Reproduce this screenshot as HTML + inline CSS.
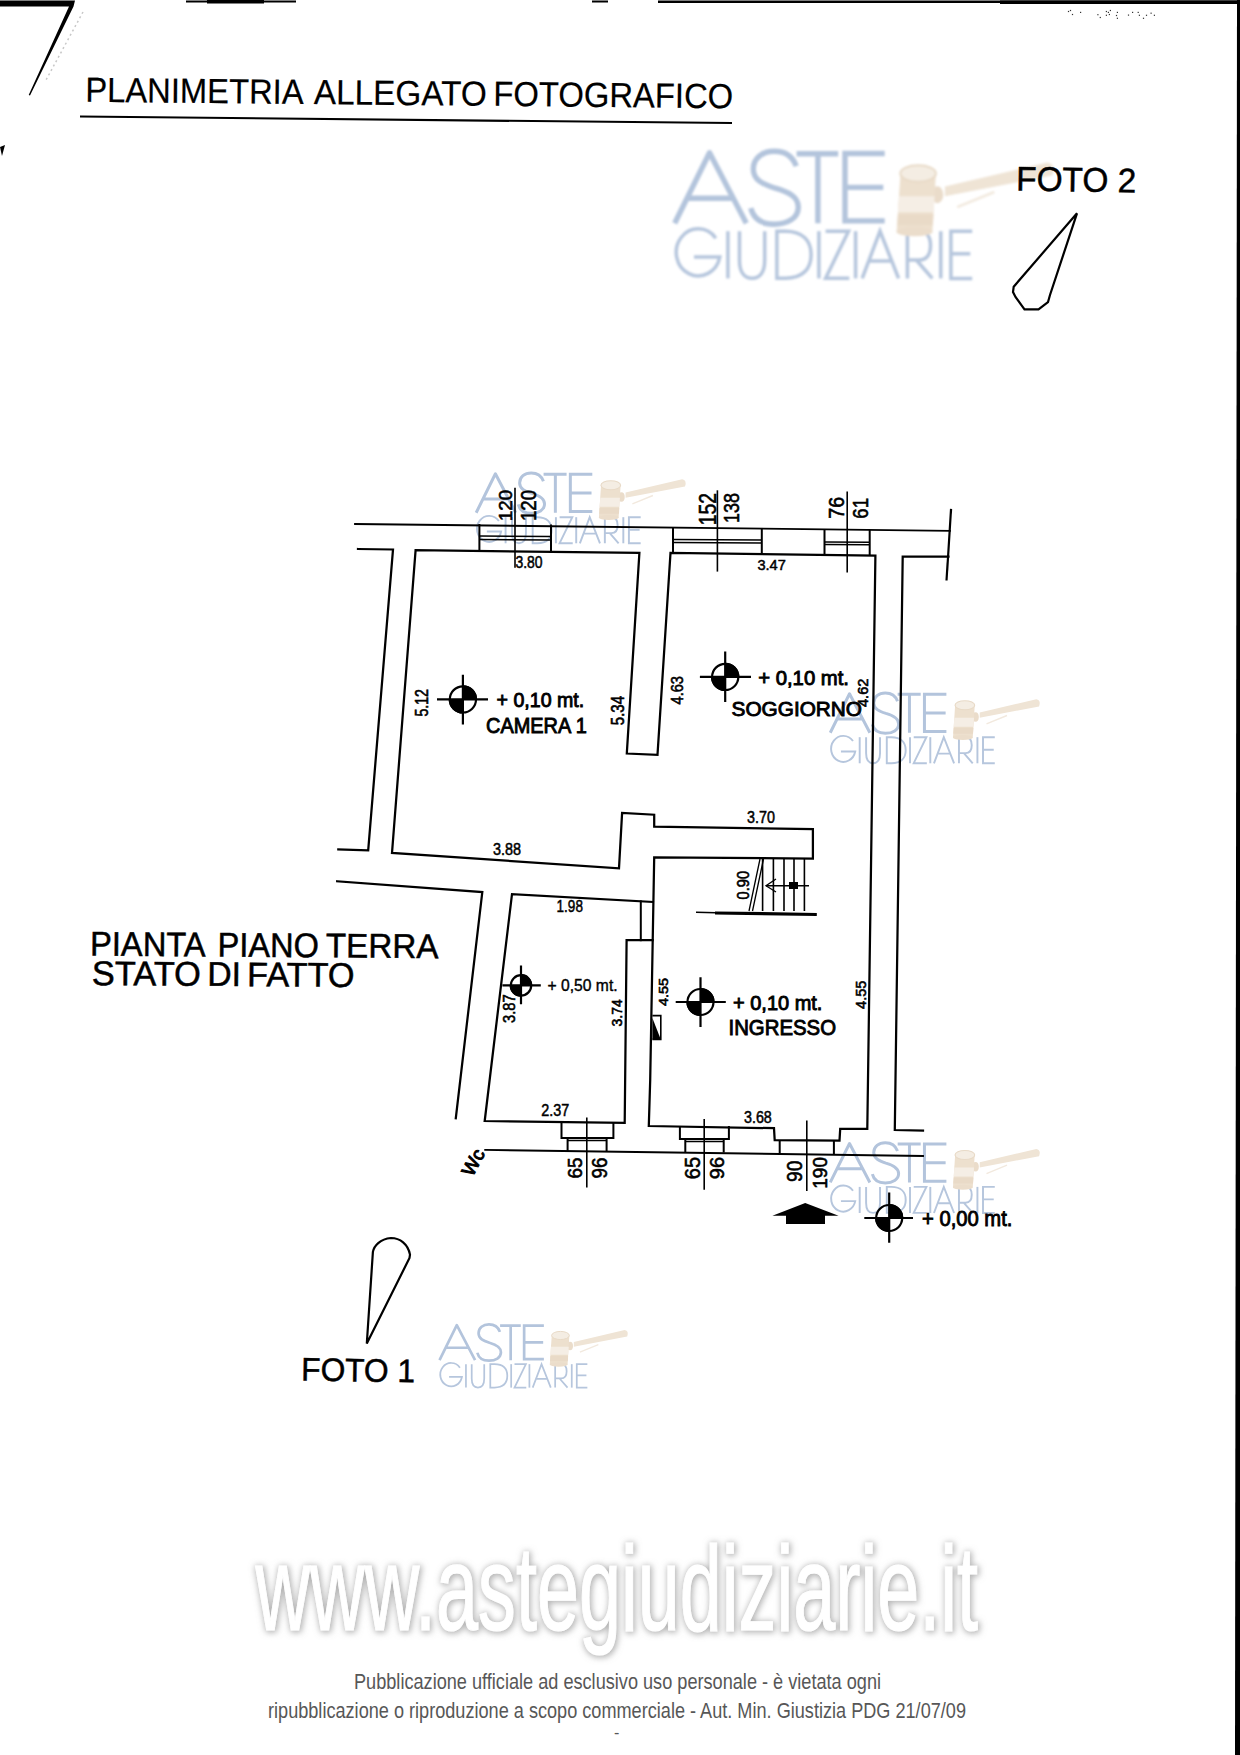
<!DOCTYPE html>
<html><head><meta charset="utf-8">
<style>
html,body{margin:0;padding:0;background:#fff;}
body{width:1240px;height:1755px;overflow:hidden;position:relative;}
svg{position:absolute;left:0;top:0;display:block;}
text{font-family:"Liberation Sans",sans-serif;}
</style></head><body>
<svg width="1240" height="1755" viewBox="0 0 1240 1755">
<defs>
<filter id="wblur" x="-5%" y="-5%" width="110%" height="110%"><feGaussianBlur stdDeviation="0.85"/></filter>
<filter id="shd" x="-5%" y="-25%" width="110%" height="150%">
<feMorphology in="SourceAlpha" operator="dilate" radius="0.8" result="d"/>
<feGaussianBlur in="d" stdDeviation="3"/>
<feOffset dx="0.6" dy="1.2" result="b"/>
<feFlood flood-color="#808080" flood-opacity="0.6"/>
<feComposite in2="b" operator="in" result="s"/>
<feMerge><feMergeNode in="s"/><feMergeNode in="SourceGraphic"/></feMerge>
</filter>
<g id="wm" filter="url(#wblur)">
<g fill="none" stroke="#b3c4dc" stroke-width="5.4" stroke-linecap="butt" stroke-linejoin="miter">
<path d="M-0.6,71 L34.2,0.5 L71,71 M12,46 L58.5,46" stroke-linejoin="round"/>
<path d="M121,14 C117,3 108,-1 99,-1 C87,-1 78,6 78,17 C78,28 88,32 100,36 C114,40 123,45 123,55 C123,66 112,72 99,72 C86,72 78,66 75.5,56"/>
<path d="M121.3,1.5 L162.9,1.5 M142.6,1.5 L142.6,71"/>
<path d="M209.4,1.3 L169.7,1.3 L169.7,68.7 L209.4,68.7 M169.7,35.2 L208,35.2"/>
</g>
<g fill="none" stroke="#b6c6dd" stroke-width="3.5">
<path d="M40.5,86 A22,23.5 0 1 0 44.5,104.8 L18.7,104.8"/>
<path d="M52.6,79 L52.6,126.2"/>
<path d="M64.2,79 L64.2,108 C64.2,120 69,126 76.8,126 C84.6,126 89.4,120 89.4,108 L89.4,79"/>
<path d="M101.6,79 L101.6,126 L110,126 C127,126 135.8,117 135.8,102.5 C135.8,88 127,79 110,79 Z"/>
<path d="M143.6,79 L143.6,126.2"/>
<path d="M150.3,79 L173.2,79 L150.3,126 L174,126"/>
<path d="M180.3,79 L180.3,126.2"/>
<path d="M186.9,126.2 L204.7,79 L223.3,126.2 M195,108.7 L215.5,108.7"/>
<path d="M232.1,126.2 L232.1,79 L244,79 C251,79 255.2,84 255.2,93.4 C255.2,102.8 251,107.8 244,107.8 L232.1,107.8 M241,107.8 L257,126.2"/>
<path d="M265.5,79 L265.5,126.2"/>
<path d="M296.9,79 L275.6,79 L275.6,126.2 L296.9,126.2 M275.6,101.6 L295,101.6"/>
</g>
<g>
<path d="M269.6,34.3 L372,10.3 Q381,12 377,23.4 L269.6,44 Z" fill="#efe4d5"/>
<path d="M281.9,54.9 L319,39.8" stroke="#f2e9de" stroke-width="2.5" fill="none"/>
<ellipse cx="262" cy="42.6" rx="6" ry="8.5" fill="#eadcca"/>
<path d="M225.2,21.3 L260.6,21.3 L257,80 L221.3,80 Z" fill="#ede0ce"/>
<ellipse cx="239.2" cy="79.5" rx="18" ry="4.5" fill="#ebddcb"/>
<path d="M223.7,44 L259.3,44 L258.4,60 L222.6,60 Z" fill="#f5eee5"/>
<path d="M222.6,62 L258.2,62 L257.6,73 L222,73 Z" fill="#e9dac7"/>
<ellipse cx="242.8" cy="21.3" rx="17.8" ry="8.2" fill="#f4ede3" stroke="#e8dac7" stroke-width="2"/>
</g>
</g>
</defs>

<!-- border -->
<g fill="#000">
<rect x="186" y="0.5" width="110" height="2"/>
<rect x="207" y="0" width="57" height="3.5"/>
<rect x="592" y="0.5" width="16" height="2"/>
<rect x="658" y="0.5" width="582" height="2.5"/>
<rect x="1000" y="0.5" width="240" height="3.5"/>
<path d="M1237,0 L1240,0 L1240,1755 L1235,1755 Z"/>
<path d="M0,0.5 L75,0.5 L73.5,6.5 L30,95.5 L28.7,95 L69,6.5 L0,6.5 Z"/>
<path d="M83,12 L46,80" stroke="#c8c8c8" stroke-width="1.5" stroke-dasharray="2 3" fill="none"/>
<path d="M0,147 L5,145 L2,156 Z"/>
</g>

<g fill="#333"><rect x="1067.9" y="10.9" width="1.2" height="1.2"/><rect x="1069.9" y="9.9" width="1.2" height="1.2"/><rect x="1071.9" y="13.9" width="1.2" height="1.2"/><rect x="1080.0" y="11.8" width="1.2" height="1.2"/><rect x="1097.3" y="14.1" width="1.2" height="1.2"/><rect x="1099.7" y="16.9" width="1.2" height="1.2"/><rect x="1105.8" y="10.9" width="1.2" height="1.2"/><rect x="1107.8" y="11.8" width="1.2" height="1.2"/><rect x="1109.8" y="9.9" width="1.2" height="1.2"/><rect x="1105.8" y="14.7" width="1.2" height="1.2"/><rect x="1108.8" y="13.9" width="1.2" height="1.2"/><rect x="1116.8" y="11.8" width="1.2" height="1.2"/><rect x="1115.9" y="14.9" width="1.2" height="1.2"/><rect x="1116.8" y="17.7" width="1.2" height="1.2"/><rect x="1127.9" y="14.5" width="1.2" height="1.2"/><rect x="1132.0" y="11.8" width="1.2" height="1.2"/><rect x="1137.6" y="11.8" width="1.2" height="1.2"/><rect x="1138.8" y="14.7" width="1.2" height="1.2"/><rect x="1142.9" y="17.7" width="1.2" height="1.2"/><rect x="1145.9" y="14.7" width="1.2" height="1.2"/><rect x="1150.5" y="12.6" width="1.2" height="1.2"/><rect x="1153.8" y="14.7" width="1.2" height="1.2"/></g>
<!-- title -->
<g transform="rotate(0.56 88 101.9)" font-size="34.9" fill="#000" stroke="#000" stroke-width="0.2">
<text x="85.19" y="101.9" textLength="218.29" lengthAdjust="spacingAndGlyphs">PLANIMETRIA</text>
<text x="313.7" y="101.9" textLength="172.91" lengthAdjust="spacingAndGlyphs">ALLEGATO</text>
<text x="493.18" y="101.9" textLength="239.98" lengthAdjust="spacingAndGlyphs">FOTOGRAFICO</text>
</g>
<path d="M80,116.5 L732,123" stroke="#000" stroke-width="2.2" fill="none"/>

<!-- watermark big -->
<use href="#wm" transform="translate(675.3,152.2)"/>
<text transform="rotate(0.9 1019 190.8)" x="1016" y="190.6" font-size="34.2" textLength="120" lengthAdjust="spacingAndGlyphs" fill="#000" stroke="#000" stroke-width="0.5">FOTO 2</text>
<path d="M1077,213.3 L1013.7,286.7 L1013,292 L1015.5,297 L1024.5,309.4 L1038.5,309.4 L1048,302 L1050,295 Z" fill="none" stroke="#000" stroke-width="2.2" stroke-linejoin="miter"/>

<!-- small watermarks -->
<use href="#wm" transform="translate(476.5,473.5) scale(0.553)"/>
<use href="#wm" transform="translate(830.6,693.5) scale(0.553)"/>
<use href="#wm" transform="translate(830.6,1143.2) scale(0.553)"/>
<use href="#wm" transform="translate(439.8,1324.9) scale(0.497)"/>

<!-- PLAN -->
<g id="plan">
<g fill="none" stroke="#000" stroke-width="2.25" stroke-linejoin="miter" stroke-linecap="square">
<path d="M355,524 L950,530.8" stroke-width="1.8"/>
<path d="M951,510 L946.6,579.4" stroke-width="2.2"/>
<path d="M358,549 L393,549.5 L368.2,850.3 L338.3,849.5"/>
<path d="M415.6,550.2 L392,852.9 L619,868.4 L622.1,812.9 L654.2,814.7 L654.2,826.6 L812.9,829.2 L812.9,858.6 L654.2,857.3 L650.2,1080 L648.8,1126 L774,1128.2 L774.7,1140.2 L839.5,1140.6 L840.2,1128.9 L867.3,1128.9 L875.4,555.6 L670.5,553 L657.5,754.8 L626.8,753.5 L639.4,552.8 Z"/>
<path d="M948.4,556.6 L902.7,556.6 L894.8,1130 L923,1130.7"/>
<path d="M337.2,881.3 L482.3,892.1 L455.8,1118.3"/>
<path d="M652.9,902 L512,894.2 L484.7,1121 L624.7,1122.8 L626.6,940.2 L652.6,940.2"/>
<path d="M640.8,901.4 L640.8,940.2" stroke-width="2"/>
<path d="M485.2,1149.9 L923,1156" stroke-width="1.9"/>
</g>
<!-- windows top -->
<g fill="none" stroke="#000" stroke-width="2">
<path d="M479.4,524 L479.4,550.5 M551,524.5 L551,551"/>
<path d="M479.4,536 L551,536.5 M479.4,539.4 L551,540" stroke-width="1.5"/>
<path d="M673,528 L673,553 M761.8,529 L761.8,554"/>
<path d="M673,539.4 L761.8,540 M673,542.5 L761.8,543" stroke-width="1.5"/>
<path d="M824.5,529.5 L824.5,555 M869.7,530 L869.7,555.5"/>
<path d="M824.5,542 L869.7,542.3 M824.5,544.5 L869.7,544.8" stroke-width="1.5"/>
</g>
<!-- windows bottom -->
<g fill="none" stroke="#000" stroke-width="2">
<path d="M561.5,1122.8 L561.5,1137.9 L613.4,1137.9 L613.4,1122.8"/>
<path d="M567.6,1137.9 L567.6,1151 M606.6,1137.9 L606.6,1151"/>
<path d="M567.6,1140.5 L606.6,1140.5" stroke-width="1.3"/>
<path d="M679.9,1126 L679.9,1139 L728.9,1139 L728.9,1126"/>
<path d="M685.3,1139 L685.3,1152.3 M723.7,1139 L723.7,1152.5"/>
<path d="M685.3,1141.5 L723.7,1141.5" stroke-width="1.3"/>
<path d="M779.7,1140.3 L779.7,1153.5 M833.9,1140.6 L833.9,1154"/>
</g>
<!-- dimension lines -->
<g stroke="#000" stroke-width="1.6" fill="none">
<path d="M515,487.7 L515,567.7"/>
<path d="M717.4,490.3 L717.4,571.6"/>
<path d="M847.2,491.6 L847.2,572.4"/>
<path d="M586.8,1117.6 L586.8,1187.6"/>
<path d="M704.2,1119 L704.2,1189.8"/>
<path d="M806.8,1120.5 L806.8,1191"/>
</g>
<!-- stairs -->
<g stroke="#000" fill="none">
<path d="M762.6,858 L762.6,911 M773.4,858 L773.4,911 M784,858 L784,911 M794,858 L794,911 M804.4,858 L804.4,911" stroke-width="1.6"/>
<path d="M760,859 L749,911 M763.5,859 L752.5,911" stroke-width="1.3"/>
<path d="M696,912.3 L716,912.8" stroke-width="1.5"/>
<path d="M715,913 L816.8,914.5" stroke-width="3.2"/>
<path d="M766,885.7 L809,885.7" stroke-width="1.4"/>
<path d="M776,879 L766,885.7 L776,892" stroke-width="1.3"/>
<rect x="789" y="882" width="9" height="7" fill="#000" stroke="none"/>
</g>
<!-- small box at ingresso -->
<path d="M652.4,1015.6 L660.8,1015.6 L660.8,1039.4 L652.4,1039.4" fill="none" stroke="#000" stroke-width="1.6"/>
<path d="M652.4,1018 L660.8,1039.4 L652.4,1039.4 Z" fill="#000"/>
<!-- arrow -->
<path d="M805.2,1203 L838.6,1215.7 L825,1215.7 L825,1224 L786,1224 L786,1215.7 L772.4,1215.7 Z" fill="#000"/>
</g>

<!-- level symbols -->
<g><path d="M462.9,699.4 L462.9,685.1999999999999 A14.2,14.2 0 0 1 477.09999999999997,699.4 Z M462.9,699.4 L462.9,713.6 A14.2,14.2 0 0 1 448.7,699.4 Z" fill="#000"/><circle cx="462.9" cy="699.4" r="13.1" fill="none" stroke="#000" stroke-width="2.2"/><path d="M437,699.4 L488,699.4 M462.9,674.8 L462.9,724.4" stroke="#000" stroke-width="2.2" fill="none"/></g>
<g><path d="M725.2,676.9 L725.2,662.6999999999999 A14.2,14.2 0 0 1 739.4000000000001,676.9 Z M725.2,676.9 L725.2,691.1 A14.2,14.2 0 0 1 711.0,676.9 Z" fill="#000"/><circle cx="725.2" cy="676.9" r="13.1" fill="none" stroke="#000" stroke-width="2.2"/><path d="M699.9,676.9 L751,676.9 M725.2,651.6 L725.2,701.9" stroke="#000" stroke-width="2.2" fill="none"/></g>
<g><path d="M521,985.4 L521,974.1 A11.3,11.3 0 0 1 532.3,985.4 Z M521,985.4 L521,996.6999999999999 A11.3,11.3 0 0 1 509.7,985.4 Z" fill="#000"/><circle cx="521" cy="985.4" r="10.2" fill="none" stroke="#000" stroke-width="2.2"/><path d="M502.4,985.4 L540.8,985.4 M521,965.5 L521,1004.3" stroke="#000" stroke-width="2.2" fill="none"/></g>
<g><path d="M700.5,1002 L700.5,987.9 A14.1,14.1 0 0 1 714.6,1002 Z M700.5,1002 L700.5,1016.1 A14.1,14.1 0 0 1 686.4,1002 Z" fill="#000"/><circle cx="700.5" cy="1002" r="13.0" fill="none" stroke="#000" stroke-width="2.2"/><path d="M675.7,1002 L725.8,1002 M700.5,977.3 L700.5,1027" stroke="#000" stroke-width="2.2" fill="none"/></g>
<g><path d="M889.2,1218 L889.2,1203.9 A14.1,14.1 0 0 1 903.3000000000001,1218 Z M889.2,1218 L889.2,1232.1 A14.1,14.1 0 0 1 875.1,1218 Z" fill="#000"/><circle cx="889.2" cy="1218" r="13.0" fill="none" stroke="#000" stroke-width="2.2"/><path d="M864.3,1218 L913,1218 M889.2,1192.4 L889.2,1242.8" stroke="#000" stroke-width="2.2" fill="none"/></g>
<g fill="#000" stroke="#000" stroke-width="0.9">
<text x="496.5" y="707.1" font-size="20.6" textLength="87.7" lengthAdjust="spacingAndGlyphs">+ 0,10 mt.</text>
<text x="486" y="732.9" font-size="21.4" textLength="100.8" lengthAdjust="spacingAndGlyphs">CAMERA 1</text>
<text x="758.2" y="685.2" font-size="20.6" textLength="90.8" lengthAdjust="spacingAndGlyphs">+ 0,10 mt.</text>
<text x="731.6" y="716" font-size="20.4" textLength="130.4" lengthAdjust="spacingAndGlyphs">SOGGIORNO</text>
<text x="547.6" y="991.2" font-size="17" textLength="70.0" lengthAdjust="spacingAndGlyphs" stroke-width="0.4">+ 0,50 mt.</text>
<text x="733" y="1010.4" font-size="20.2" textLength="89.4" lengthAdjust="spacingAndGlyphs">+ 0,10 mt.</text>
<text x="728.5" y="1034.8" font-size="21.2" textLength="107.5" lengthAdjust="spacingAndGlyphs">INGRESSO</text>
<text x="922" y="1226.3" font-size="21.4" textLength="90.4" lengthAdjust="spacingAndGlyphs">+ 0,00 mt.</text>
</g>
<g fill="#000" stroke="#000" stroke-width="0.5">
<text x="515.5" y="568" font-size="16" textLength="27.1" lengthAdjust="spacingAndGlyphs">3.80</text>
<text x="757.4" y="569.8" font-size="14.5" textLength="28.4" lengthAdjust="spacingAndGlyphs">3.47</text>
<text x="493" y="855" font-size="16" textLength="28.0" lengthAdjust="spacingAndGlyphs">3.88</text>
<text x="747.1" y="823.2" font-size="15.7" textLength="27.9" lengthAdjust="spacingAndGlyphs">3.70</text>
<text x="556.6" y="912.3" font-size="17" textLength="26.3" lengthAdjust="spacingAndGlyphs">1.98</text>
<text x="541.2" y="1116.4" font-size="16.3" textLength="28.0" lengthAdjust="spacingAndGlyphs">2.37</text>
<text x="744" y="1122.8" font-size="15.7" textLength="27.8" lengthAdjust="spacingAndGlyphs">3.68</text>
</g>
<g fill="#000" stroke="#000" stroke-width="0.6">
<text transform="translate(511.6,521.0) rotate(-90)" font-size="18.6" textLength="31.0" lengthAdjust="spacingAndGlyphs">120</text>
<text transform="translate(536.0,521.0) rotate(-90)" font-size="21.2" textLength="31.0" lengthAdjust="spacingAndGlyphs">120</text>
<text transform="translate(716.0,525.2) rotate(-90)" font-size="23.7" textLength="32.2" lengthAdjust="spacingAndGlyphs">152</text>
<text transform="translate(739.4,523.0) rotate(-90)" font-size="22.5" textLength="30.0" lengthAdjust="spacingAndGlyphs">138</text>
<text transform="translate(843.9,518.7) rotate(-90)" font-size="22.0" textLength="21.9" lengthAdjust="spacingAndGlyphs">76</text>
<text transform="translate(868.4,518.7) rotate(-90)" font-size="22.5" textLength="20.7" lengthAdjust="spacingAndGlyphs">61</text>
<text transform="translate(428.0,716.6) rotate(-90)" font-size="17.7" textLength="27.6" lengthAdjust="spacingAndGlyphs">5.12</text>
<text transform="translate(624.2,725.2) rotate(-90)" font-size="17.6" textLength="29.2" lengthAdjust="spacingAndGlyphs">5.34</text>
<text transform="translate(682.6,704.5) rotate(-90)" font-size="15.8" textLength="28.5" lengthAdjust="spacingAndGlyphs">4.63</text>
<text transform="translate(868.4,707.0) rotate(-90)" font-size="14.0" textLength="28.3" lengthAdjust="spacingAndGlyphs">4.62</text>
<text transform="translate(749.2,899.4) rotate(-90)" font-size="16.8" textLength="28.4" lengthAdjust="spacingAndGlyphs">0.90</text>
<text transform="translate(514.8,1023.0) rotate(-90)" font-size="16.8" textLength="28.6" lengthAdjust="spacingAndGlyphs">3.87</text>
<text transform="translate(622.0,1026.4) rotate(-90)" font-size="14.2" textLength="27.1" lengthAdjust="spacingAndGlyphs">3.74</text>
<text transform="translate(668.4,1006.0) rotate(-90)" font-size="13.7" textLength="28.1" lengthAdjust="spacingAndGlyphs">4.55</text>
<text transform="translate(865.8,1008.9) rotate(-90)" font-size="15.3" textLength="28.3" lengthAdjust="spacingAndGlyphs">4.55</text>
<text transform="translate(582.2,1178.5) rotate(-90)" font-size="21.0" textLength="21.0" lengthAdjust="spacingAndGlyphs">65</text>
<text transform="translate(606.6,1178.5) rotate(-90)" font-size="21.7" textLength="21.0" lengthAdjust="spacingAndGlyphs">96</text>
<text transform="translate(700.2,1179.2) rotate(-90)" font-size="21.7" textLength="22.2" lengthAdjust="spacingAndGlyphs">65</text>
<text transform="translate(723.7,1179.2) rotate(-90)" font-size="20.9" textLength="22.2" lengthAdjust="spacingAndGlyphs">96</text>
<text transform="translate(802.3,1181.9) rotate(-90)" font-size="21.7" textLength="21.4" lengthAdjust="spacingAndGlyphs">90</text>
<text transform="translate(827.0,1188.7) rotate(-90)" font-size="21.0" textLength="31.7" lengthAdjust="spacingAndGlyphs">190</text>
</g>
<text transform="translate(472.5,1177.5) rotate(-62)" font-size="19" fill="#000" stroke="#000" stroke-width="1">Wc</text>
<!-- pianta text -->
<g transform="rotate(0.42 93 955.6)" font-size="34.2" fill="#000" stroke="#000" stroke-width="0.5">
<text x="90.03" y="955.6" textLength="115.52" lengthAdjust="spacingAndGlyphs">PIANTA</text>
<text x="217.54" y="955.6" textLength="101.28" lengthAdjust="spacingAndGlyphs">PIANO</text>
<text x="325.73" y="955.6" textLength="112.75" lengthAdjust="spacingAndGlyphs">TERRA</text>
</g>
<g transform="rotate(0.42 93 985)" font-size="34.2" fill="#000" stroke="#000" stroke-width="0.5">
<text x="91.89" y="985" textLength="108.89" lengthAdjust="spacingAndGlyphs">STATO</text>
<text x="207.24" y="985" textLength="33.7" lengthAdjust="spacingAndGlyphs">DI</text>
<text x="247.09" y="985" textLength="107.33" lengthAdjust="spacingAndGlyphs">FATTO</text>
</g>

<!-- foto 1 -->
<text transform="rotate(0.9 303 1380.6)" x="301" y="1380.6" font-size="32.6" textLength="114" lengthAdjust="spacingAndGlyphs" fill="#000" stroke="#000" stroke-width="0.5">FOTO 1</text>
<path d="M366.8,1343.5 L372.9,1251.9 C374,1246 380,1239 391,1238 C400,1238 408,1244 410,1254.6 L409.5,1258 Z" fill="none" stroke="#000" stroke-width="2.2"/>

<!-- www watermark -->
<text x="255.5" y="1630.2" font-size="120" textLength="722.5" lengthAdjust="spacingAndGlyphs" fill="#fff" stroke="#fff" stroke-width="1.2" filter="url(#shd)">www.astegiudiziarie.it</text>

<!-- footer -->
<text x="354" y="1689.1" font-size="22" textLength="527" lengthAdjust="spacingAndGlyphs" fill="#575757">Pubblicazione ufficiale ad esclusivo uso personale - è vietata ogni</text>
<text x="268" y="1717.6" font-size="22" textLength="698" lengthAdjust="spacingAndGlyphs" fill="#575757">ripubblicazione o riproduzione a scopo commerciale - Aut. Min. Giustizia PDG 21/07/09</text>
<text x="614" y="1738" font-size="16" fill="#575757">-</text>
</svg>
</body></html>
